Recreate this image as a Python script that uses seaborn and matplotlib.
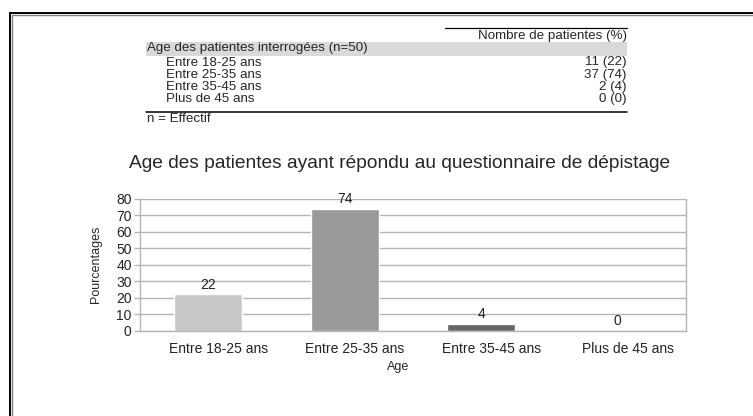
import matplotlib
matplotlib.use("Agg")
import matplotlib.pyplot as plt
import seaborn as sns
import pandas as pd
from matplotlib.lines import Line2D
from matplotlib.patches import Rectangle

# ---- data ----
categories = ["Entre 18-25 ans", "Entre 25-35 ans", "Entre 35-45 ans", "Plus de 45 ans"]
counts = [11, 37, 2, 0]
percentages = [22, 74, 4, 0]
yticks = [0, 10, 20, 30, 40, 50, 60, 70, 80]
title = "Age des patientes ayant répondu au questionnaire de dépistage"
table_header = "Nombre de patientes (%)"
table_group = "Age des patientes interrogées (n=50)"
footnote = "n = Effectif"

bar_colors = ["#c8c8c8", "#999999", "#666666", "#4d4d4d"]

sns.set_theme(style="white")
plt.rcParams["font.family"] = ["Liberation Sans", "DejaVu Sans"]

W, H = 753, 416
fig = plt.figure(figsize=(W / 100, H / 100), dpi=100)

def fx(x):
    return x / W

def fy(y):
    return 1 - y / H

# ---- outer frame ----
fig.add_artist(Line2D([fx(9.5), fx(9.5)], [fy(12.5), fy(416)], color="black", lw=1.4, transform=fig.transFigure))
fig.add_artist(Line2D([fx(9.5), fx(753)], [fy(12.5), fy(12.5)], color="black", lw=1.4, transform=fig.transFigure))
fig.add_artist(Line2D([fx(11.8), fx(11.8)], [fy(14.8), fy(416)], color="#808080", lw=1.0, transform=fig.transFigure))
fig.add_artist(Line2D([fx(11.8), fx(753)], [fy(14.8), fy(14.8)], color="#808080", lw=1.0, transform=fig.transFigure))

# ---- table ----
tfs = 9.6
left_x, right_x = 146, 627
fig.add_artist(Line2D([fx(445), fx(right_x)], [fy(27.5), fy(27.5)], color="black", lw=0.9, transform=fig.transFigure))
fig.text(fx(right_x), fy(35.5), table_header, ha="right", va="center", fontsize=tfs)
fig.add_artist(Rectangle((fx(left_x), fy(55.5)), fx(right_x) - fx(left_x), fy(42) - fy(55.5),
                         facecolor="#d9d9d9", edgecolor="none", transform=fig.transFigure))
fig.text(fx(left_x + 1), fy(48.5), table_group, ha="left", va="center", fontsize=tfs)
row_y = [62.5, 74.8, 87.1, 99.4]
for cat, c, p, yy in zip(categories, counts, percentages, row_y):
    fig.text(fx(166), fy(yy), cat, ha="left", va="center", fontsize=tfs)
    fig.text(fx(right_x), fy(yy), f"{c} ({p})", ha="right", va="center", fontsize=tfs)
fig.add_artist(Line2D([fx(left_x), fx(right_x)], [fy(111.8), fy(111.8)], color="black", lw=1.1, transform=fig.transFigure))
fig.text(fx(left_x + 1), fy(119.5), footnote, ha="left", va="center", fontsize=tfs)

# ---- chart ----
ax = fig.add_axes([fx(140), fy(330.5), fx(686) - fx(140), fy(199) - fy(330.5)])
df = pd.DataFrame({"Age": categories, "Pourcentages": percentages})
sns.barplot(data=df, x="Age", y="Pourcentages", hue="Age", palette=bar_colors,
            width=0.5, legend=False, ax=ax, saturation=1)
for cont in ax.containers:
    ax.bar_label(cont, padding=2, fontsize=10, color="#222222")

ax.set_xlim(-0.5, len(categories) - 0.5)
ax.set_ylim(0, 80)
ax.set_yticks(yticks)
ax.yaxis.grid(True, color="#b3b3b3", lw=1.0)
ax.set_axisbelow(True)
for s in ["left", "bottom", "right"]:
    ax.spines[s].set_visible(True)
    ax.spines[s].set_color("#b3b3b3")
    ax.spines[s].set_linewidth(1.0)
ax.spines["top"].set_visible(False)

# category labels sit slightly right of the bar centres, as in the reference
ax.set_xticks([i + 0.075 for i in range(len(categories))], labels=categories)
ax.tick_params(axis="x", which="major", length=0, labelsize=10, pad=8)
ax.set_xticks([i - 0.5 for i in range(len(categories) + 1)], minor=True)
ax.tick_params(axis="x", which="minor", length=5, color="#b3b3b3", width=1, direction="out")
ax.tick_params(axis="y", length=4, color="#b3b3b3", width=1, direction="out", labelsize=10,
               pad=2, left=True)
ax.tick_params(axis="both", labelcolor="#222222")

ax.set_xlabel("Age", fontsize=9)
ax.xaxis.set_label_coords((398 - 140) / 546, (330.5 - 361) / 131.5)
ax.set_ylabel("Pourcentages", fontsize=9, labelpad=10)
fig.text(fx(400), fy(163), title, ha="center", va="center", fontsize=13.8)

fig.savefig("out.png", dpi=100, facecolor="white")
